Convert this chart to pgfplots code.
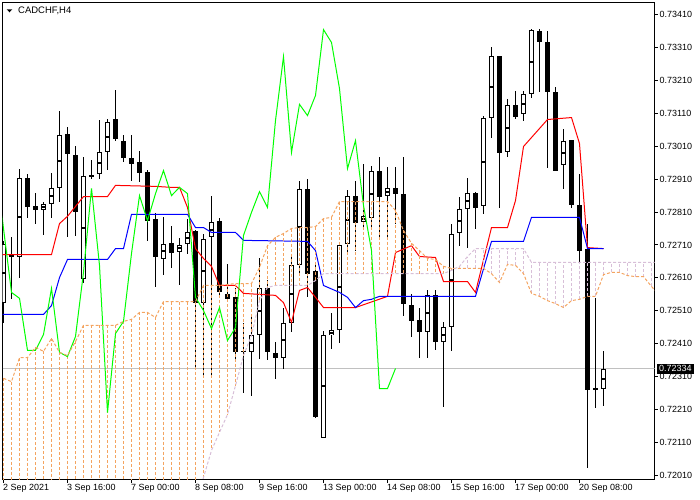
\documentclass[border=0pt]{standalone}
\usepackage{pgfplots}
\pgfplotsset{compat=1.18}
\usepackage{pgfplotstable}
\usepackage{fontspec}
\setmainfont{Liberation Sans}

\definecolor{sandy}{RGB}{244,164,96}
\definecolor{thistle}{RGB}{216,191,216}
\definecolor{chikou}{RGB}{0,255,0}
\definecolor{bidgray}{RGB}{192,192,192}

% CADCHF H4 candles, bar 0 = 2 Sep 2021 08:00
\pgfplotstableread{
i o h l c
0 0.72535 0.72724 0.72475 0.72715
1 0.72684 0.72736 0.72548 0.72675
2 0.72675 0.72942 0.72611 0.72915
3 0.72915 0.72927 0.72794 0.72827
4 0.72830 0.72869 0.72775 0.72818
5 0.72818 0.72842 0.72742 0.72836
6 0.72836 0.72930 0.72794 0.72885
7 0.72885 0.73118 0.72842 0.73046
8 0.73049 0.73070 0.72736 0.72988
9 0.72985 0.73012 0.72739 0.72812
10 0.72608 0.72976 0.72596 0.72921
11 0.72924 0.72970 0.72912 0.72918
12 0.72927 0.73091 0.72912 0.72994
13 0.72991 0.73094 0.72939 0.73085
14 0.73094 0.73182 0.73027 0.73033
15 0.73027 0.73046 0.72964 0.72976
16 0.72976 0.73046 0.72906 0.72957
17 0.72964 0.72997 0.72903 0.72930
18 0.72933 0.72939 0.72724 0.72784
19 0.72787 0.72809 0.72584 0.72672
20 0.72669 0.72794 0.72620 0.72715
21 0.72718 0.72769 0.72642 0.72687
22 0.72690 0.72733 0.72590 0.72712
23 0.72712 0.72790 0.72684 0.72748
24 0.72751 0.72757 0.72338 0.72535
25 0.72535 0.72745 0.72308 0.72730
26 0.72733 0.72860 0.72311 0.72781
27 0.72784 0.72794 0.72554 0.72566
28 0.72563 0.72654 0.72541 0.72548
29 0.72554 0.72581 0.72365 0.72387
30 0.72390 0.72475 0.72262 0.72387
31 0.72387 0.72493 0.72253 0.72438
32 0.72438 0.72672 0.72365 0.72581
33 0.72581 0.72605 0.72362 0.72384
34 0.72384 0.72417 0.72305 0.72368
35 0.72368 0.72520 0.72335 0.72475
36 0.72475 0.72684 0.72447 0.72651
37 0.72651 0.72903 0.72617 0.72882
38 0.72879 0.72909 0.72551 0.72623
39 0.72630 0.72654 0.72186 0.72189
40 0.72125 0.72450 0.72125 0.72438
41 0.72438 0.72505 0.72396 0.72453
42 0.72453 0.72718 0.72414 0.72712
43 0.72712 0.72876 0.72681 0.72860
44 0.72860 0.72906 0.72693 0.72778
45 0.72781 0.72957 0.72763 0.72800
46 0.72794 0.72951 0.72763 0.72936
47 0.72936 0.72979 0.72730 0.72857
48 0.72860 0.72948 0.72733 0.72885
49 0.72885 0.72948 0.72775 0.72866
50 0.72866 0.72979 0.72496 0.72532
51 0.72529 0.72560 0.72432 0.72481
52 0.72481 0.72520 0.72368 0.72447
53 0.72447 0.72575 0.72368 0.72560
54 0.72560 0.72572 0.72390 0.72417
55 0.72417 0.72478 0.72220 0.72462
56 0.72462 0.72775 0.72390 0.72745
57 0.72748 0.72857 0.72708 0.72821
58 0.72821 0.72915 0.72702 0.72869
59 0.72869 0.72872 0.72760 0.72824
60 0.72830 0.73103 0.72806 0.73097
61 0.73097 0.73313 0.73036 0.73285
62 0.73285 0.73285 0.72821 0.72991
63 0.72994 0.73152 0.72976 0.73137
64 0.73137 0.73179 0.73094 0.73100
65 0.73109 0.73179 0.73088 0.73170
66 0.73170 0.73368 0.73158 0.73364
67 0.73361 0.73368 0.73176 0.73325
68 0.73328 0.73361 0.72945 0.73176
69 0.73176 0.73191 0.72936 0.72936
70 0.72954 0.73064 0.72882 0.73027
71 0.73030 0.73030 0.72824 0.72830
72 0.72833 0.72927 0.72660 0.72693
73 0.72699 0.72775 0.72034 0.72271
74 0.72275 0.72551 0.72216 0.72272
75 0.72274 0.72390 0.72223 0.72334
}\candles

% Senkou span A (a) and span B (b), shifted 26 bars ahead
\pgfplotstableread{
i a b
0 0.72305 0.71934
1 0.72295 0.71934
2 0.72368 0.71934
3 0.72368 0.71934
4 0.72399 0.71934
5 0.72387 0.71934
6 0.72426 0.71934
7 0.72384 0.71934
8 0.72374 0.71934
9 0.72417 0.71934
10 0.72466 0.71934
11 0.72466 0.71934
12 0.72466 0.71934
13 0.72466 0.71934
14 0.72466 0.71934
15 0.72478 0.71934
16 0.72484 0.71934
17 0.72505 0.71934
18 0.72505 0.71934
19 0.72490 0.71934
20 0.72538 0.71934
21 0.72538 0.71934
22 0.72538 0.71934
23 0.72538 0.71934
24 0.72538 0.71934
25 0.72587 0.72004
26 0.72587 0.72086
27 0.72587 0.72141
28 0.72590 0.72195
29 0.72593 0.72283
30 0.72593 0.72374
31 0.72593 0.72435
32 0.72642 0.72541
33 0.72708 0.72581
34 0.72733 0.72587
35 0.72745 0.72587
36 0.72760 0.72587
37 0.72763 0.72587
38 0.72763 0.72587
39 0.72766 0.72602
40 0.72790 0.72623
41 0.72794 0.72623
42 0.72842 0.72623
43 0.72842 0.72623
44 0.72842 0.72623
45 0.72842 0.72623
46 0.72842 0.72623
47 0.72842 0.72623
48 0.72842 0.72623
49 0.72815 0.72623
50 0.72754 0.72623
51 0.72715 0.72623
52 0.72693 0.72623
53 0.72669 0.72623
54 0.72666 0.72623
55 0.72645 0.72623
56 0.72639 0.72633
57 0.72639 0.72645
58 0.72639 0.72675
59 0.72639 0.72699
60 0.72639 0.72699
61 0.72623 0.72699
62 0.72596 0.72699
63 0.72651 0.72699
64 0.72648 0.72699
65 0.72623 0.72699
66 0.72563 0.72657
67 0.72554 0.72657
68 0.72541 0.72657
69 0.72532 0.72657
70 0.72520 0.72657
71 0.72541 0.72657
72 0.72545 0.72657
73 0.72554 0.72657
74 0.72554 0.72657
75 0.72620 0.72657
76 0.72627 0.72657
77 0.72627 0.72657
78 0.72617 0.72657
79 0.72614 0.72657
80 0.72614 0.72657
81 0.72584 0.72657
82 0.72557 0.72657
}\cloud

\pgfplotsset{
    bar/.style={draw=none, mark=none, forget plot,
        error bars/.cd, y dir=both, y explicit, error mark=none,
        error bar style={#1}},
    hatch/.style={#1, line width=1bp, dash pattern=on 3bp off 2bp, mark=none,
        forget plot, quiver={u=0, v=\thisrow{b}-\thisrow{a}}},
}

\begin{document}
\begin{tikzpicture}
\path[use as bounding box] (0,0) rectangle (700bp,500bp);
\begin{axis}[
    name=ax, at={(2.5bp,20.5bp)}, anchor=south west,
    scale only axis, width=652bp, height=477bp,
    xmin=-0.125, xmax=81.375,
    ymin=0.719978, ymax=0.734464,
    axis line style={black, line width=1bp},
    tick align=outside, major tick length=3bp,
    tick style={black, line width=1bp},
    xtick pos=lower, ytick pos=upper,
    xticklabel pos=lower, yticklabel pos=upper,
    xtick={0,8,...,72},
    xticklabels={2 Sep 2021, 3 Sep 16:00, 7 Sep 00:00, 8 Sep 08:00, 9 Sep 16:00,
        13 Sep 00:00, 14 Sep 08:00, 15 Sep 16:00, 17 Sep 00:00, 20 Sep 08:00},
    ytick={0.7201,0.7211,0.7221,0.7231,0.7241,0.7251,0.7261,0.7271,
        0.7281,0.7291,0.7301,0.7311,0.7321,0.7331,0.7341},
    scaled y ticks=false,
    /pgf/number format/assume math mode=true,
    yticklabel style={/pgf/number format/fixed, /pgf/number format/fixed zerofill,
        /pgf/number format/precision=5, anchor=west, inner sep=0pt, xshift=2bp},
    xticklabel style={anchor=north west, inner sep=0pt, xshift=-0.5bp, yshift=-2bp},
    tick label style={font=\fontsize{9}{11}\selectfont, text=black},
]
% bid line
\addplot[bidgray, line width=1bp] coordinates {(-0.125,0.72334) (81.375,0.72334)};
% wicks
\addplot[bar={draw=black, solid, line width=1bp}]
    table[x=i, y expr={(\thisrow{h}+\thisrow{l})/2}, y error expr={(\thisrow{h}-\thisrow{l})/2}] {\candles};
% bodies (black outline for all)
\addplot[bar={draw=black, solid, line width=5bp}]
    table[x=i, y expr={(\thisrow{o}+\thisrow{c})/2}, y error expr={abs(\thisrow{c}-\thisrow{o})/2}] {\candles};
% hollow inside of bull bodies
\addplot[bar={draw=white, solid, line width=3bp, shorten <=1bp, shorten >=1bp}]
    table[x=i, y expr={\thisrow{c}>\thisrow{o} ? (\thisrow{o}+\thisrow{c})/2 : nan},
        y error expr={abs(\thisrow{c}-\thisrow{o})/2}] {\candles};

% Tenkan-sen
\addplot[red, line width=1bp] coordinates {
(-1,0.72681)(0,0.72681)(6,0.72681)(7,0.72775)(8,0.72797)(10,0.72857)(13,0.72857)
(14,0.72891)(19,0.72888)(21,0.72885)(22,0.72885)(23,0.72824)(24,0.72699)(25,0.72669)
(26,0.72645)(27,0.72587)(29,0.72587)(30,0.72563)(34,0.72557)(35,0.72535)(36,0.72475)
(37,0.72572)(38,0.72581)(39,0.72551)(40,0.72520)(44,0.72520)(48,0.72554)(49,0.72687)
(51,0.72708)(52,0.72675)(54,0.72672)(55,0.72599)(58,0.72599)(59,0.72566)(61,0.72763)
(63,0.72763)(64,0.72845)(65,0.73009)(68,0.73091)(71,0.73097)(72,0.73018)(73,0.72702)
(75,0.72699)};
% Kijun-sen
\addplot[blue, line width=1bp] coordinates {
(-1,0.72499)(5,0.72499)(6,0.72526)(7,0.72611)(8,0.72666)(13,0.72666)(14,0.72699)
(15,0.72699)(16,0.72803)(23,0.72803)(24,0.72763)(25,0.72763)(26,0.72748)(29,0.72748)
(30,0.72724)(38,0.72721)(39,0.72693)(40,0.72587)(42,0.72566)(43,0.72551)(44,0.72520)
(45,0.72541)(46,0.72545)(47,0.72554)(59,0.72554)(61,0.72721)(65,0.72721)(66,0.72794)
(72,0.72794)(73,0.72699)(75,0.72699)};

% cloud hatching, from span A to span B
\addplot[hatch=sandy]
    table[x=i, y expr={\thisrow{a}>\thisrow{b} ? \thisrow{a} : nan}] {\cloud};
\addplot[hatch=thistle]
    table[x=i, y expr={\thisrow{b}>\thisrow{a} ? \thisrow{a} : nan}] {\cloud};

% Chikou span
\addplot[chikou, line width=1bp] coordinates {
(-1,0.72967)(0,0.72760)(1,0.72566)(2,0.72548)(3,0.72390)(4,0.72390)(5,0.72438)
(6,0.72578)(7,0.72384)(8,0.72371)(9,0.72432)(10,0.72627)(11,0.72882)(12,0.72648)
(13,0.72201)(14,0.72441)(15,0.72478)(16,0.72684)(17,0.72860)(18,0.72784)(19,0.72866)
(20,0.72936)(21,0.72860)(22,0.72885)(23,0.72866)(24,0.72551)(25,0.72511)(26,0.72456)
(27,0.72520)(28,0.72420)(29,0.72459)(30,0.72739)(31,0.72809)(32,0.72872)(33,0.72824)
(34,0.73088)(35,0.73282)(36,0.72991)(37,0.73137)(38,0.73103)(39,0.73164)(40,0.73364)
(41,0.73325)(42,0.73185)(43,0.72942)(44,0.73027)(45,0.72830)(46,0.72693)(47,0.72274)
(48,0.72274)(49,0.72335)};

% span lines
\addplot[sandy, line width=1bp, dash pattern=on 3bp off 2bp] table[x=i, y=a] {\cloud};
\addplot[thistle, line width=1bp, dash pattern=on 3bp off 2bp] table[x=i, y=b] {\cloud};

\coordinate (bid) at (axis cs:81.375,0.72334);
\end{axis}
\node[fill=black, text=white, anchor=west, inner xsep=2.5bp, inner ysep=1bp,
    minimum height=10bp, font=\fontsize{9}{11}\selectfont] at ([xshift=2bp]bid) {0.72334};
\fill[black] (6.7bp,490.7bp) -- (12.3bp,490.7bp) -- (9.5bp,487.7bp) -- cycle;
\node[anchor=west, inner sep=0pt, font=\fontsize{9.5}{11}\selectfont] at (18bp,489.3bp) {CADCHF,H4};
\end{tikzpicture}
\end{document}
